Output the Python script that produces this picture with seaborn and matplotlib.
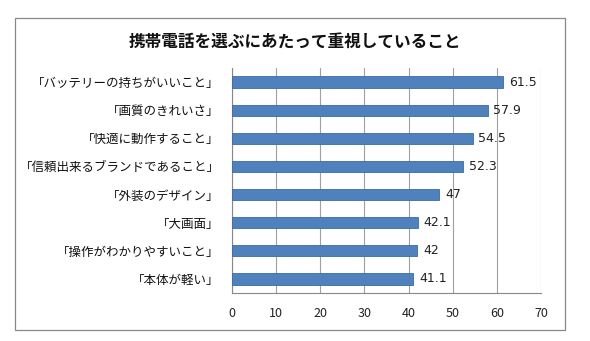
import matplotlib
matplotlib.use("Agg")
import matplotlib.pyplot as plt
import seaborn as sns
import pandas as pd
from matplotlib.patches import Rectangle

categories = ["「バッテリーの持ちがいいこと」", "「画質のきれいさ」", "「快適に動作すること」",
              "「信頼出来るブランドであること」", "「外装のデザイン」", "「大画面」",
              "「操作がわかりやすいこと」", "「本体が軽い」"]
values = [61.5, 57.9, 54.5, 52.3, 47, 42.1, 42, 41.1]
value_labels = ["61.5", "57.9", "54.5", "52.3", "47", "42.1", "42", "41.1"]
xticks = [0, 10, 20, 30, 40, 50, 60, 70]
title = "携帯電話を選ぶにあたって重視していること"

sns.set_theme(style="white")
plt.rcParams['font.family'] = ['Noto Sans CJK JP', 'DejaVu Sans']

df = pd.DataFrame({"cat": categories, "val": values})

fig = plt.figure(figsize=(5.9, 3.41), dpi=100)
ax = fig.add_axes([232/590, 1-293/341, (541-232)/590, (293-68)/341])

sns.barplot(data=df, x="val", y="cat", orient="h", color="#4F81BD", width=0.4,
            edgecolor="#3A6BA5", linewidth=0.6, ax=ax, zorder=3, saturation=1)

ax.set_xlim(0, 70)
ax.set_ylim(len(categories)-0.5, -0.5)
ax.set_xticks(xticks)
ax.set_xticklabels([str(t) for t in xticks], fontsize=9, color="#222222")
ax.set_xlabel("")
ax.set_ylabel("")
ax.tick_params(axis="y", length=0, labelsize=9, pad=9, colors="#111111")
ax.tick_params(axis="x", length=4, direction="out", color="#888888", pad=6)
ax.grid(axis="x", color="#a0a0a0", linewidth=0.8, zorder=0)
ax.grid(axis="y", visible=False)
for s in ["top", "right"]:
    ax.spines[s].set_visible(False)
for s in ["left", "bottom"]:
    ax.spines[s].set_color("#888888")
    ax.spines[s].set_linewidth(0.8)

ax.set_yticks([i + 0.5 for i in range(-1, len(categories))], minor=True)
ax.tick_params(axis="y", which="minor", length=4, direction="out", color="#888888")

for i, (v, lab) in enumerate(zip(values, value_labels)):
    ax.text(v + 1.3, i, lab, va="center", ha="left", fontsize=9, color="#222222",
            family=['DejaVu Sans'])

fig.text(0.5, 1-42/341, title, ha="center", va="center", fontsize=12,
         fontweight="bold", color="#111111")

fig.patches.append(Rectangle((15/590, 1-330/341), (565-15)/590, (330-18)/341,
                             transform=fig.transFigure, fill=False,
                             edgecolor="#888888", linewidth=0.9))

fig.savefig("out.png", dpi=100)
